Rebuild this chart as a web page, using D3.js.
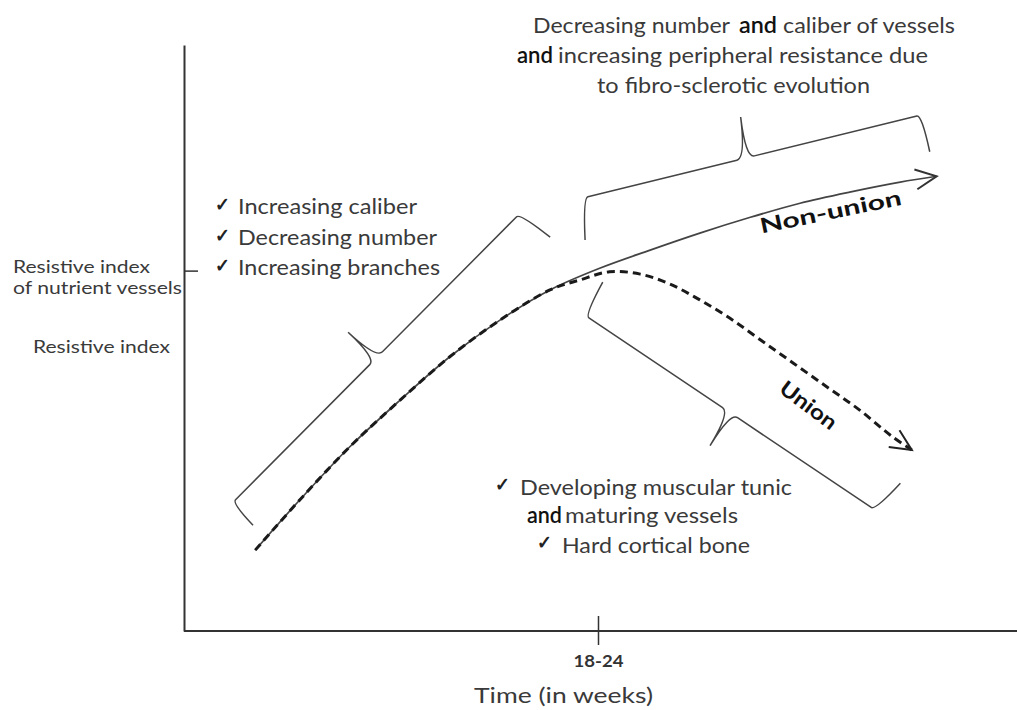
<!DOCTYPE html>
<html>
<head>
<meta charset="utf-8">
<script src="https://cdn.jsdelivr.net/npm/d3@7"></script>
<style>
  body { margin: 0; background: #fff; }
  svg { display: block; }
  text { font-family: Lato, "Open Sans", sans-serif; }
</style>
</head>
<body>
<svg id="chart"></svg>
<script>
// values (time and resistive index in arbitrary 0-100 units)
const nonUnionTime = [8.6, 14.0, 20.0, 26.1, 32.1, 38.2, 44.2, 50.2, 56.3, 62.3, 68.4, 74.4, 80.4, 86.5, 90.9];
const nonUnionRI = [13.8, 22.4, 31.4, 39.4, 46.8, 53.1, 58.2, 61.9, 65.0, 67.9, 70.6, 73.0, 74.9, 76.6, 77.6];
const unionTime = [8.6, 14.0, 20.0, 26.1, 32.1, 38.2, 44.2, 47.8, 51.4, 55.1, 58.7, 62.3, 65.9, 69.6, 73.6, 77.7, 81.6, 85.6, 87.9];
const unionRI = [13.8, 22.4, 31.4, 39.4, 46.8, 53.1, 58.2, 59.9, 61.3, 60.9, 59.2, 56.5, 53.4, 49.7, 45.7, 41.6, 37.7, 33.1, 30.9];
const xTickValues = [50];
const xTickLabels = ["18-24"];
const yTickValues = [61.5];

class ResistiveChart {
  margin = { top: 45, right: 5, bottom: 79, left: 184 }

  constructor(svg, width = 1017, height = 710) {
    this.svg = svg;
    this.width = width;
    this.height = height;
  }

  initialize() {
    this.svg = d3.select(this.svg)
      .attr('width', this.width)
      .attr('height', this.height);
    this.xScale = d3.scaleLinear().domain([0, 100]).range([this.margin.left, 1012]);
    this.yScale = d3.scaleLinear().domain([0, 100]).range([this.height - this.margin.bottom, this.margin.top]);

    const defs = this.svg.append('defs');
    [['arrowSolid', '#333'], ['arrowDashed', '#222']].forEach(([id, c]) => {
      defs.append('marker')
        .attr('id', id)
        .attr('markerUnits', 'userSpaceOnUse')
        .attr('viewBox', '-26 -14 30 28')
        .attr('markerWidth', 30).attr('markerHeight', 28)
        .attr('refX', 0).attr('refY', 0)
        .attr('orient', 'auto')
        .append('path')
        .attr('d', 'M-21,-10 L0,0 L-21,10')
        .attr('fill', 'none')
        .attr('stroke', c)
        .attr('stroke-width', 2);
    });
  }

  axes() {
    const x = this.xScale, y = this.yScale;
    const xAxis = this.svg.append('g')
      .attr('transform', `translate(0, ${y(0)})`)
      .call(d3.axisBottom(x).tickValues(xTickValues).tickFormat((d, i) => xTickLabels[i]).tickSize(14).tickSizeOuter(0).tickPadding(10));
    xAxis.select('.domain').attr('stroke', '#333').attr('stroke-width', 2).attr('d', `M${x(0)},0H1017`);
    xAxis.selectAll('.tick line').attr('y1', -15).attr('stroke', '#333').attr('stroke-width', 1.5);
    xAxis.selectAll('.tick text')
      .attr('font-size', 17).attr('font-weight', 700).attr('fill', '#333')
      .attr('font-family', 'Lato, sans-serif')
      .attr('textLength', 50).attr('lengthAdjust', 'spacingAndGlyphs');

    const yAxis = this.svg.append('g')
      .attr('transform', `translate(${x(0)}, 0)`)
      .call(d3.axisLeft(y).tickValues(yTickValues).tickFormat('').tickSize(16).tickSizeOuter(0));
    yAxis.select('.domain').attr('stroke', '#333').attr('stroke-width', 2);
    yAxis.selectAll('.tick line').attr('x2', 14).attr('stroke', '#333').attr('stroke-width', 1.5);

    // axis titles
    this.text('Time (in weeks)', 474, 703, 22, { len: 179 });
    this.text('Resistive index', 13, 273, 17, { len: 137 });
    this.text('of nutrient vessels', 13, 294, 17, { len: 169 });
    this.text('Resistive index', 33, 353, 17, { len: 137 });
  }

  text(str, xPos, yPos, size, opt = {}) {
    const t = this.svg.append('text')
      .attr('x', xPos).attr('y', yPos)
      .attr('font-size', size)
      .attr('fill', opt.color || '#3a3a3a')
      .attr('font-weight', opt.weight || 400)
      .text(str);
    if (opt.len) t.attr('textLength', opt.len).attr('lengthAdjust', 'spacingAndGlyphs');
    if (opt.family) t.attr('font-family', opt.family);
    if (opt.anchor) t.attr('text-anchor', opt.anchor);
    if (opt.rotate !== undefined) t.attr('transform', `rotate(${opt.rotate}, ${xPos}, ${yPos})`);
    return t;
  }

  check(xPos, yPos) {
    return this.text('\u2713', xPos, yPos, 19, { color: '#222', weight: 700, len: 15, family: '"DejaVu Sans", sans-serif' });
  }

  curves() {
    const line = d3.line()
      .x(d => this.xScale(d[0]))
      .y(d => this.yScale(d[1]))
      .curve(d3.curveCatmullRom.alpha(0.5));
    const nonUnion = nonUnionTime.map((t, i) => [t, nonUnionRI[i]]);
    const union = unionTime.map((t, i) => [t, unionRI[i]]);

    this.svg.append('path')
      .datum(nonUnion)
      .attr('d', line)
      .attr('fill', 'none')
      .attr('stroke', '#444')
      .attr('stroke-width', 1.7)
      .attr('marker-end', 'url(#arrowSolid)');

    this.svg.append('path')
      .datum(union)
      .attr('d', line)
      .attr('fill', 'none')
      .attr('stroke', '#1a1a1a')
      .attr('stroke-width', 3)
      .attr('stroke-dasharray', '8 5')
      .attr('marker-end', 'url(#arrowDashed)');

    this.text('Non-union', 832, 219, 21, { weight: 700, color: '#111', anchor: 'middle', len: 144, rotate: -11.6 });
    this.text('Union', 804, 411, 21, { weight: 700, color: '#111', anchor: 'middle', len: 66, rotate: 37 });
  }

  // curly brace between two corners, hooks at both ends and a cusp pointing outwards
  brace(a, b, ha, hb, t, cusp) {
    const A = [this.xScale(a[0]), this.yScale(a[1])];
    const B = [this.xScale(b[0]), this.yScale(b[1])];
    const dx = B[0] - A[0], dy = B[1] - A[1], len = Math.hypot(dx, dy);
    const ux = dx / len, uy = dy / len;
    const m = [A[0] + dx * t, A[1] + dy * t];
    const p = d3.path();
    p.moveTo(A[0] + ha[0], A[1] + ha[1]);
    p.quadraticCurveTo(A[0], A[1], A[0] + ux * 5, A[1] + uy * 5);
    p.lineTo(m[0] - ux * 9, m[1] - uy * 9);
    p.quadraticCurveTo(m[0], m[1], m[0] + cusp[0], m[1] + cusp[1]);
    p.quadraticCurveTo(m[0], m[1], m[0] + ux * 9, m[1] + uy * 9);
    p.lineTo(B[0] - ux * 5, B[1] - uy * 5);
    p.quadraticCurveTo(B[0], B[1], B[0] + hb[0], B[1] + hb[1]);
    this.svg.append('path')
      .attr('d', p.toString())
      .attr('fill', 'none')
      .attr('stroke', '#444')
      .attr('stroke-width', 1.5);
  }

  annotations() {
    this.brace([5.8, 21.8], [40.6, 71.3], [21, 22], [30, 24], 0.5, [-28, -26]);
    this.brace([48.2, 73.9], [89.1, 88.1], [2, 42], [8, 37], 0.48, [-5, -41]);
    this.brace([48.4, 53.9], [83.5, 20.6], [18, -33], [25, -27], 0.5, [-20, 33]);

    // top block
    this.text('Decreasing number', 533, 33, 22, { len: 197 });
    this.text('and', 739, 33, 22, { len: 38, color: '#111', weight: 600 });
    this.text('caliber of vessels', 783, 33, 22, { len: 172 });
    this.text('and', 517, 63, 22, { len: 36, color: '#111', weight: 600 });
    this.text('increasing peripheral resistance due', 558, 63, 22, { len: 370 });
    this.text('to fibro-sclerotic evolution', 597, 93, 22, { len: 273 });

    // left list
    const leftItems = ['Increasing caliber', 'Decreasing number', 'Increasing branches'];
    const leftLens = [179, 199, 202];
    leftItems.forEach((s, i) => {
      const yy = 214 + i * 30.5;
      this.check(215, yy - 3);
      this.text(s, 238, yy, 22, { len: leftLens[i] });
    });

    // bottom list
    this.check(495, 491);
    this.text('Developing muscular tunic', 520, 495, 22, { len: 272 });
    this.text('and', 527, 523, 22, { len: 35, color: '#111', weight: 600 });
    this.text('maturing vessels', 565, 523, 22, { len: 173 });
    this.check(537, 549);
    this.text('Hard cortical bone', 562, 553, 22, { len: 188 });
  }
}

const chart = new ResistiveChart(document.getElementById('chart'));
chart.initialize();
chart.axes();
chart.curves();
chart.annotations();
</script>
</body>
</html>
